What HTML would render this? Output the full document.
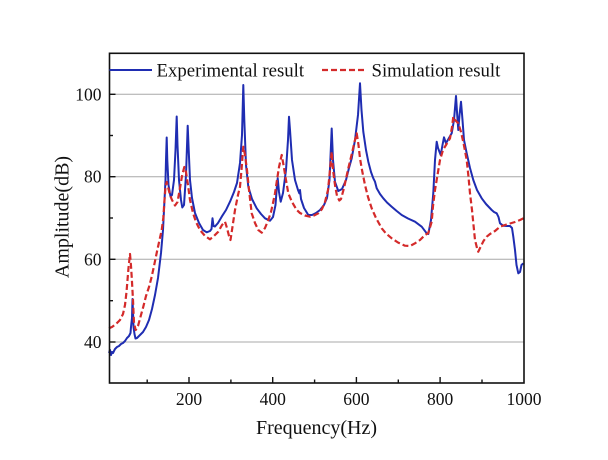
<!DOCTYPE html>
<html>
<head>
<meta charset="utf-8">
<style>
  html, body { margin: 0; padding: 0; background: #ffffff; }
  body { width: 608px; height: 460px; overflow: hidden; }
  svg { display: block; }
  text { font-family: "Liberation Serif", "Times New Roman", serif; fill: #111; }
</style>
</head>
<body>
<svg width="608" height="460" viewBox="0 0 608 460" xmlns="http://www.w3.org/2000/svg">
  <rect x="0" y="0" width="608" height="460" fill="#ffffff"/>

  <!-- grid lines -->
  <g stroke="#a8a8a8" stroke-width="1">
    <line x1="109" y1="94.3" x2="524" y2="94.3"/>
    <line x1="109" y1="176.7" x2="524" y2="176.7"/>
    <line x1="109" y1="259.3" x2="524" y2="259.3"/>
    <line x1="109" y1="342" x2="524" y2="342"/>
  </g>

  <!-- experimental (blue) -->
  <polyline fill="none" stroke="#1f2db2" stroke-width="2" stroke-linejoin="round" points="
109,353 110,350 111,355 112,352 113,353 115,349 117,347 119,346 121,344 123,343 125,341 127,338 129,336 130.5,333 131,327 132,318 132.5,299 133,312 133.5,327 134.5,334 135.5,338.5 137,338 140,335 143,332 146,327 149,320 152,309 155,295 158,278 161,253 163,230 164.5,200 165.5,180 166,160 166.7,137.5 167.3,160 168.5,185 170.5,196.5 172,195 174,180 175.5,150 176.7,116.5 177.5,145 179,180 181,200 182.3,207.5 184,205 186,175 187.7,125.7 188.7,150 190,180 192,198 195,213 199,223 203,230 206.7,232.3 210,231 211.5,229 212.5,218.3 213.5,226 215,226.5 218,223 221.7,216.7 226,210 230,201.7 234,192 237,183 240,163 242,135 243.3,85 244.3,120 246,165 248.3,186.7 252,199 256.7,208.3 261,214 265,218.3 270,220.7 273,217 275.5,205 277,185 277.7,178.3 279,192 280.7,201.7 283,193 286,170 288,140 289,116.7 290,130 292,160 295,180 298,190 299.3,193.3 300,190 301,199 304,208 308.3,215 312,215 316,213 320,210 324,205 327,198 329.5,180 331.7,128.5 333,160 335,182 338.3,191 342,189 346,180 349,168 351.7,158.3 355,140 358,115 360,83.3 361.5,110 363.3,131.7 366,150 368.3,161.7 371,172 373.3,178.3 375,181.7 376.7,188.3 380,194 383.3,198.3 387,202.5 391.7,206.7 396.7,211 401.7,215 408,218.5 415,221.7 421.7,226.7 426.7,233.3 428.3,234 431,220 433.3,193 435,160 436.7,141.7 438,148 440.7,155 442.5,145 444,137.3 446,143.3 449,138 451.7,133.3 454,120 456,96 457.2,115 458.3,130 459.5,115 461,101.7 462.5,120 464,140 466.7,153.3 470,168 473.3,180 477,190 481.7,198.3 486,204 491.7,210 494,212 496.7,213.3 498.5,217 500,223.3 503.3,225.7 507,226 510,226 512,228 513.3,236.7 515,250 516.5,265 518.3,273.3 520,272 521.5,265 523.3,263.3"/>

  <!-- simulation (red dashed) -->
  <polyline fill="none" stroke="#d42a2a" stroke-width="2.2" stroke-dasharray="6 3" stroke-linejoin="round" points="
109,328.3 112,327 116,324 120,320 123,314 125,305 126.5,292 127.5,280 128.5,268 130,254 131,266 131.7,276.7 133,300 134,323.3 135.7,330 138,326 141,315 143.3,306.7 146,296 149,287 151.7,276.7 154,266 157.3,250 159.5,240 161.7,230 163.3,218 164.5,200 165.5,187 166.7,182 168,187 170,195 172,200 175,205.5 177.5,202 180,188 182,176 184.3,167 186,172 188,185 190,200 193,213 196,222 200,230 205,236 210,239.3 214,236 218.3,231.7 222,225 225,221.7 227,228 229,236 230.5,240 232,230 235,210 238,195 240,186.7 241.5,170 243.3,146.7 245,155 247,170 249,190 251.7,213.3 255,223 258.3,230 261.7,232.7 265,228 268.3,220 271,212 273,203 275,193.3 277,180 279,167 281.7,155 283.5,165 286,180 288.3,193.3 292,202 296.7,210 300,213 305,215.5 310,216.7 314,215.5 318.3,213.3 322,209 325,202 328,190 330,170 331.7,151.7 333,170 335,185 337,196 339.3,200.5 341,199 344,188 348.3,168.3 352,153 354.5,142 356.7,133.3 358.5,145 360,158.3 362,170 365,185 368,197 371.7,208.3 376,218 381.7,228.3 386,233.5 391.7,238.3 398,242.5 405,245.7 410,246 415,243.3 420,240 425,235 428.3,233 431.7,221.7 433,206 435,190 437.5,175 440,160 443,150 446,145 450,138.3 452,127 453.3,116.7 455,120 458.3,123.3 461,132 463.5,143 466.7,160 468.5,177 470,193.3 472,210 474,230 475,240 477,248 478.3,251.7 481,246 483.5,241 486.7,236.7 490,234 495,231 500,226.7 505,225 510,223.5 515,222 520,220 524,218"/>

  <!-- axes frame -->
  <rect x="109.5" y="53.3" width="414.5" height="329.7" fill="none" stroke="#111" stroke-width="1.6"/>

  <!-- x ticks (inward) -->
  <g stroke="#111" stroke-width="1.4">
    <line x1="189" y1="383" x2="189" y2="377"/>
    <line x1="272.7" y1="383" x2="272.7" y2="377"/>
    <line x1="356.4" y1="383" x2="356.4" y2="377"/>
    <line x1="440.1" y1="383" x2="440.1" y2="377"/>
    <line x1="147.2" y1="383" x2="147.2" y2="379.5"/>
    <line x1="230.9" y1="383" x2="230.9" y2="379.5"/>
    <line x1="314.6" y1="383" x2="314.6" y2="379.5"/>
    <line x1="398.3" y1="383" x2="398.3" y2="379.5"/>
    <line x1="482" y1="383" x2="482" y2="379.5"/>
  </g>
  <!-- y ticks (inward) -->
  <g stroke="#111" stroke-width="1.4">
    <line x1="109.5" y1="94.3" x2="115.5" y2="94.3"/>
    <line x1="109.5" y1="176.7" x2="115.5" y2="176.7"/>
    <line x1="109.5" y1="259.3" x2="115.5" y2="259.3"/>
    <line x1="109.5" y1="342" x2="115.5" y2="342"/>
    <line x1="109.5" y1="135.5" x2="113" y2="135.5"/>
    <line x1="109.5" y1="218" x2="113" y2="218"/>
    <line x1="109.5" y1="300.7" x2="113" y2="300.7"/>
  </g>

  <!-- y tick labels -->
  <g font-size="17.5" text-anchor="end">
    <text x="101.5" y="100.3">100</text>
    <text x="101.5" y="182.7">80</text>
    <text x="101.5" y="265.3">60</text>
    <text x="101.5" y="348">40</text>
  </g>
  <!-- x tick labels -->
  <g font-size="17.5" text-anchor="middle">
    <text x="189" y="405">200</text>
    <text x="272.7" y="405">400</text>
    <text x="356.4" y="405">600</text>
    <text x="440.1" y="405">800</text>
    <text x="524" y="405">1000</text>
  </g>

  <!-- axis titles -->
  <text x="316.5" y="434" font-size="20" text-anchor="middle">Frequency(Hz)</text>
  <text transform="translate(68.5,217) rotate(-90)" font-size="20" text-anchor="middle">Amplitude(dB)</text>

  <!-- legend -->
  <line x1="109.5" y1="70" x2="152" y2="70" stroke="#1f2db2" stroke-width="2"/>
  <text x="156.5" y="76.5" font-size="18.8">Experimental result</text>
  <line x1="322" y1="70" x2="364" y2="70" stroke="#d42a2a" stroke-width="2.2" stroke-dasharray="6 3"/>
  <text x="371.5" y="76.5" font-size="18.8">Simulation result</text>
</svg>
</body>
</html>
